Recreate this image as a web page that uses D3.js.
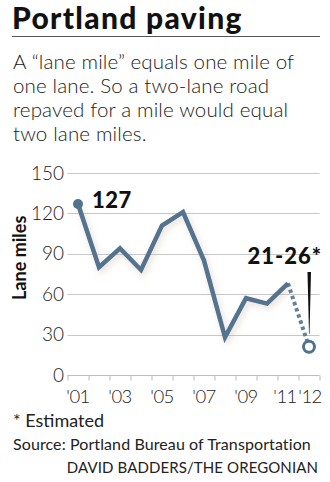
<!DOCTYPE html>
<html>
<head>
<meta charset="utf-8">
<script src="https://cdn.jsdelivr.net/npm/d3@7/dist/d3.min.js"></script>
<style>
  html, body { margin: 0; padding: 0; background: #fff; }
  svg { display: block; }
</style>
</head>
<body>
<svg id="chart" width="330" height="482"></svg>
<script>
// Lane miles repaved per year (2012 is an estimate range)
const years = [2001, 2002, 2003, 2004, 2005, 2006, 2007, 2008, 2009, 2010, 2011];
const laneMiles = [127, 80, 94, 78, 111, 121, 85, 28, 57, 53, 68];
const estimateYear = 2012;
const estimateLow = 21;
const estimateHigh = 26;
const yTicks = [0, 30, 60, 90, 120, 150];
const xTickLabels = [
  { year: 2001, label: "'01" }, { year: 2003, label: "'03" },
  { year: 2005, label: "'05" }, { year: 2007, label: "'07" },
  { year: 2009, label: "'09" }, { year: 2011, label: "'11" },
  { year: 2012, label: "'12" }
];
const subtitleLines = [
  "A \u201clane mile\u201d equals one mile of",
  "one lane. So a two-lane road",
  "repaved for a mile would equal",
  "two lane miles."
];

const svg = d3.select("#chart");
const blue = "#52738f";
const lightFont = "Lato, 'Open Sans', sans-serif";
const boldFont = "Lato, 'Open Sans', sans-serif";

const x = d3.scaleLinear().domain([2001, 2012]).range([78, 309]);
const y = d3.scaleLinear().domain([0, 150]).range([375, 173]);

// Soft shadow under the line
const defs = svg.append("defs");
const f = defs.append("filter").attr("id", "shadow")
  .attr("x", "-20%").attr("y", "-20%").attr("width", "140%").attr("height", "140%");
f.append("feDropShadow").attr("dx", 2).attr("dy", 3).attr("stdDeviation", 3)
  .attr("flood-color", "#b09a88").attr("flood-opacity", 0.35);

// Title
svg.append("text").attr("x", 12).attr("y", 29)
  .attr("font-family", boldFont).attr("font-weight", 900)
  .attr("font-size", 30).attr("letter-spacing", 1.3).attr("fill", "#111")
  .text("Portland paving");
svg.append("line").attr("x1", 12).attr("x2", 320).attr("y1", 36.5).attr("y2", 36.5)
  .attr("stroke", "#555").attr("stroke-width", 1);

// Subtitle
svg.append("g").selectAll("text").data(subtitleLines).join("text")
  .attr("x", 13).attr("y", (d, i) => 69 + i * 24)
  .attr("font-family", lightFont).attr("font-weight", 300)
  .attr("font-size", 20.5).attr("letter-spacing", 0.15).attr("fill", "#1a1a1a").text(d => d);

// Gridlines
const x0 = x(2000.5), x1 = x(2012.5);
svg.append("g").selectAll("line").data(yTicks.filter(d => d > 0)).join("line")
  .attr("x1", x0).attr("x2", x1)
  .attr("y1", d => Math.round(y(d)) + 0.5).attr("y2", d => Math.round(y(d)) + 0.5)
  .attr("stroke", "#c8c8c8").attr("stroke-width", 1);

// Y axis labels
svg.append("g").selectAll("text").data(yTicks).join("text")
  .attr("x", 64).attr("y", d => y(d) + 6.5).attr("text-anchor", "end")
  .attr("font-family", lightFont).attr("font-weight", 300)
  .attr("font-size", 19).attr("fill", "#222").text(d => d);

svg.append("text")
  .attr("transform", `translate(26,${y(87)}) rotate(-90)`)
  .attr("text-anchor", "middle")
  .attr("font-family", boldFont).attr("font-weight", 700)
  .attr("font-size", 18).attr("fill", "#111").text("Lane miles");

// X axis: baseline with ticks at year boundaries
const xAxis = d3.axisBottom(x)
  .tickValues(d3.range(2000.5, 2013, 1))
  .tickSize(5).tickSizeOuter(0).tickFormat("");
const gx = svg.append("g").attr("transform", `translate(0,${Math.round(y(0)) + 0.5})`).call(xAxis);
gx.select(".domain").attr("stroke", "#bbb").attr("d", `M${x0},0H${x1}`);
gx.selectAll(".tick line").attr("stroke", "#bbb");

svg.append("g").selectAll("text").data(xTickLabels).join("text")
  .attr("x", d => x(d.year) + (d.year === 2011 ? -3 : d.year === 2012 ? 1 : 0))
  .attr("y", 403).attr("text-anchor", "middle")
  .attr("font-family", lightFont).attr("font-weight", 300)
  .attr("font-size", 18.5).attr("letter-spacing", -0.6)
  .attr("fill", "#222").text(d => d.label);

// Data line
const pts = years.map((yr, i) => [yr, laneMiles[i]]);
const line = d3.line().x(d => x(d[0])).y(d => y(d[1]));

svg.append("path").datum(pts).attr("d", line)
  .attr("fill", "none").attr("stroke", blue).attr("stroke-width", 4.5)
  .attr("stroke-linejoin", "miter").attr("filter", "url(#shadow)");

// Estimated segment
const last = pts[pts.length - 1];
svg.append("path").datum([last, [estimateYear, estimateLow]]).attr("d", line)
  .attr("fill", "none").attr("stroke", blue).attr("stroke-width", 4)
  .attr("stroke-dasharray", "3.5,3").attr("opacity", 0.9);

svg.append("circle").attr("cx", x(years[0])).attr("cy", y(laneMiles[0])).attr("r", 5)
  .attr("fill", blue);
svg.append("circle").attr("cx", x(estimateYear)).attr("cy", y(estimateLow)).attr("r", 5.5)
  .attr("fill", "#fff").attr("stroke", blue).attr("stroke-width", 3);

// Value labels
svg.append("text").attr("x", x(years[0]) + 14).attr("y", y(laneMiles[0]) + 4)
  .attr("font-family", boldFont).attr("font-weight", 900).attr("font-size", 22)
  .attr("letter-spacing", 0.5).attr("fill", "#111").text(laneMiles[0]);

svg.append("text").attr("x", 322).attr("y", 264).attr("text-anchor", "end")
  .attr("font-family", boldFont).attr("font-weight", 900).attr("font-size", 22)
  .attr("letter-spacing", 1).attr("fill", "#111").text(`${estimateLow}-${estimateHigh}*`);

// Pointer from the estimate label down to the estimate point
const px = x(estimateYear);
const pTop = 272, pBot = y(estimateLow) - 13;
svg.append("path")
  .attr("d", `M${px - 1.5},${pTop}L${px + 2},${pTop}L${px + 0.5},${pBot}L${px},${pBot}Z`)
  .attr("fill", "#111");

// Footnotes
svg.append("text").attr("x", 13).attr("y", 427)
  .attr("font-family", lightFont).attr("font-weight", 400).attr("font-size", 18)
  .attr("fill", "#222").text("* Estimated");
svg.append("text").attr("x", 13).attr("y", 450)
  .attr("font-family", lightFont).attr("font-weight", 400).attr("font-size", 16)
  .attr("letter-spacing", 0.1).attr("fill", "#222").text("Source: Portland Bureau of Transportation");
svg.append("text").attr("x", 318).attr("y", 473).attr("text-anchor", "end")
  .attr("font-family", lightFont).attr("font-weight", 400).attr("font-size", 15)
  .attr("letter-spacing", 0.1).attr("fill", "#222").text("DAVID BADDERS/THE OREGONIAN");
</script>
</body>
</html>
